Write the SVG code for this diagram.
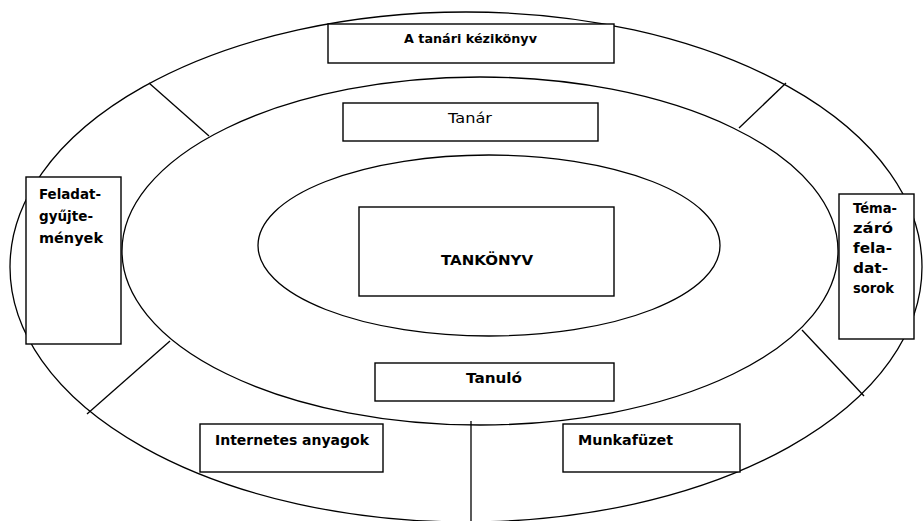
<svg xmlns="http://www.w3.org/2000/svg" width="924" height="521" viewBox="0 0 924 521">
<style>
.ring{fill:none;stroke:#000;stroke-width:1.3}
.box{fill:#fff;stroke:#000;stroke-width:1.4}
.ln{stroke:#000;stroke-width:1.3;fill:none}
text{font-family:"DejaVu Sans","Liberation Sans",sans-serif;fill:#000}
.b{font-weight:bold;font-size:14px}
.s{font-weight:bold;font-size:12.7px}
.r{font-weight:normal;font-size:14.5px}
</style>
<rect width="924" height="521" fill="#fff"/>
<g id="rings">
<ellipse class="ring" cx="466" cy="267" rx="456" ry="255"/>
<ellipse class="ring" cx="480" cy="251" rx="358" ry="174"/>
<ellipse class="ring" cx="489" cy="245.5" rx="231" ry="90.5"/>
</g>
<g id="connectors">
<line class="ln" x1="149" y1="83" x2="209" y2="136"/>
<line class="ln" x1="786" y1="83" x2="739" y2="128"/>
<line class="ln" x1="170" y1="341" x2="87" y2="414"/>
<line class="ln" x1="802" y1="330" x2="864" y2="396"/>
<line class="ln" x1="471" y1="421" x2="471" y2="521"/>
</g>
<g id="kezikonyv">
<rect class="box" x="328" y="24" width="286" height="39"/>
<text class="s" x="404" y="43" textLength="133" lengthAdjust="spacingAndGlyphs">A tanári kézikönyv</text>
</g>
<g id="tanar">
<rect class="box" x="343" y="103" width="255" height="38"/>
<text class="r" x="448" y="123" textLength="44" lengthAdjust="spacingAndGlyphs">Tanár</text>
</g>
<g id="tankonyv">
<rect class="box" x="359" y="207" width="255" height="89"/>
<text class="b" x="441" y="265" textLength="92" lengthAdjust="spacingAndGlyphs">TANKÖNYV</text>
</g>
<g id="tanulo">
<rect class="box" x="375" y="363" width="239" height="38"/>
<text class="b" x="466" y="383" textLength="56" lengthAdjust="spacingAndGlyphs">Tanuló</text>
</g>
<g id="internetes">
<rect class="box" x="200" y="424" width="183" height="48"/>
<text class="b" x="215" y="445" textLength="154" lengthAdjust="spacingAndGlyphs">Internetes anyagok</text>
</g>
<g id="munkafuzet">
<rect class="box" x="563" y="424" width="177" height="48"/>
<text class="b" x="578" y="445" textLength="95" lengthAdjust="spacingAndGlyphs">Munkafüzet</text>
</g>
<g id="feladatgyujtemenyek">
<rect class="box" x="26" y="177" width="95" height="167"/>
<text class="b" x="39" y="199" textLength="62" lengthAdjust="spacingAndGlyphs">Feladat-</text>
<text class="b" x="39" y="221" textLength="54" lengthAdjust="spacingAndGlyphs">gyűjte-</text>
<text class="b" x="39" y="243" textLength="64" lengthAdjust="spacingAndGlyphs">mények</text>
</g>
<g id="temazaro">
<rect class="box" x="839" y="194" width="75" height="145"/>
<text class="b" x="853" y="213" textLength="44" lengthAdjust="spacingAndGlyphs">Téma-</text>
<text class="b" x="853" y="233" textLength="40" lengthAdjust="spacingAndGlyphs">záró</text>
<text class="b" x="853" y="253" textLength="39" lengthAdjust="spacingAndGlyphs">fela-</text>
<text class="b" x="853" y="273" textLength="35" lengthAdjust="spacingAndGlyphs">dat-</text>
<text class="b" x="853" y="293" textLength="41" lengthAdjust="spacingAndGlyphs">sorok</text>
</g>
</svg>
